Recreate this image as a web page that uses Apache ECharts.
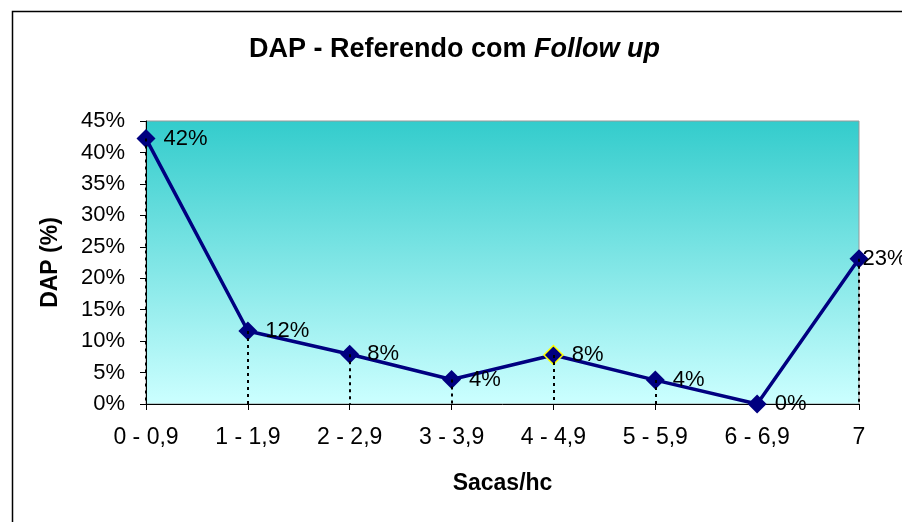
<!DOCTYPE html>
<html>
<head>
<meta charset="utf-8">
<script src="https://cdn.jsdelivr.net/npm/echarts@6/dist/echarts.min.js"></script>
<style>
  html, body { margin: 0; padding: 0; background: #fff; }
  #chart { width: 902px; height: 522px; }
</style>
</head>
<body>
<div id="chart"></div>
<script>
// data
var categories = ['0 - 0,9', '1 - 1,9', '2 - 2,9', '3 - 3,9', '4 - 4,9', '5 - 5,9', '6 - 6,9', '7'];
var dapValues = [42.2, 11.6, 7.9, 3.9, 7.8, 3.8, 0, 23.1];
var yTicks = { min: 0, max: 45, interval: 5 };

var FONT = "'Liberation Sans', Arial, sans-serif";

var chart = echarts.init(document.getElementById('chart'));

var seriesData = dapValues.map(function (v, i) {
    var item = { value: v };
    if (i === 4) {
        item.itemStyle = { borderColor: '#FFFF00', borderWidth: 1.5 };
    }
    if (i === dapValues.length - 1) {
        item.label = { offset: [-14, 0] };
    }
    return item;
});

// vertical dotted drop lines from each point down to the axis
var dropLines = dapValues.map(function (v, i) {
    return [{ coord: [categories[i], v] }, { coord: [categories[i], 0] }];
});

var option = {
    backgroundColor: '#fff',
    animation: false,
    textStyle: { fontFamily: FONT, color: '#000' },
    title: {
        text: 'DAP - Referendo com {i|Follow up}',
        left: 244,
        top: 31,
        textStyle: {
            fontFamily: FONT,
            fontSize: 27,
            fontWeight: 'bold',
            color: '#000',
            rich: {
                i: { fontFamily: FONT, fontSize: 27, fontWeight: 'bold', fontStyle: 'italic', color: '#000' }
            }
        }
    },
    graphic: [{
        type: 'rect',
        left: 10,
        top: 9,
        shape: { width: 1000, height: 1000 },
        style: { fill: 'none', stroke: '#000', lineWidth: 1.5 },
        silent: true
    }],
    grid: {
        left: 146,
        right: 43,
        top: 121,
        bottom: 118,
        show: true,
        borderColor: '#999',
        borderWidth: 1,
        backgroundColor: new echarts.graphic.LinearGradient(0, 0, 0, 1, [
            { offset: 0, color: '#33CCCC' },
            { offset: 1, color: '#CCFFFF' }
        ])
    },
    xAxis: {
        type: 'category',
        data: categories,
        boundaryGap: false,
        name: 'Sacas/hc',
        nameLocation: 'middle',
        nameGap: 68,
        nameTextStyle: { fontFamily: FONT, fontSize: 23, fontWeight: 'bold', color: '#000' },
        axisLine: { lineStyle: { color: '#000', width: 1 } },
        axisTick: { show: true, alignWithLabel: true, length: 6, lineStyle: { color: '#000' } },
        axisLabel: { fontFamily: FONT, fontSize: 23, color: '#000', margin: 22, interval: 0 },
        splitLine: { show: false }
    },
    yAxis: {
        type: 'value',
        min: yTicks.min,
        max: yTicks.max,
        interval: yTicks.interval,
        name: 'DAP (%)',
        nameLocation: 'middle',
        nameRotate: 90,
        nameGap: 84,
        nameTextStyle: { fontFamily: FONT, fontSize: 23, fontWeight: 'bold', color: '#000' },
        axisLine: { show: true, lineStyle: { color: '#000', width: 1 } },
        axisTick: { show: true, length: 6, lineStyle: { color: '#000' } },
        axisLabel: { fontFamily: FONT, fontSize: 22, color: '#000', margin: 21, formatter: '{value}%' },
        splitLine: { show: false }
    },
    series: [{
        type: 'line',
        data: seriesData,
        symbol: 'diamond',
        symbolSize: 19,
        lineStyle: { color: '#000080', width: 3.5 },
        itemStyle: { color: '#000080' },
        label: {
            show: true,
            position: 'right',
            distance: 8,
            fontFamily: FONT,
            fontSize: 22,
            color: '#000',
            formatter: function (p) { return Math.round(p.value) + '%'; }
        },
        markLine: {
            silent: true,
            symbol: 'none',
            label: { show: false },
            lineStyle: { color: '#000', type: [3, 4], width: 2 },
            data: dropLines
        },
        z: 3
    }]
};

chart.setOption(option);
</script>
</body>
</html>
